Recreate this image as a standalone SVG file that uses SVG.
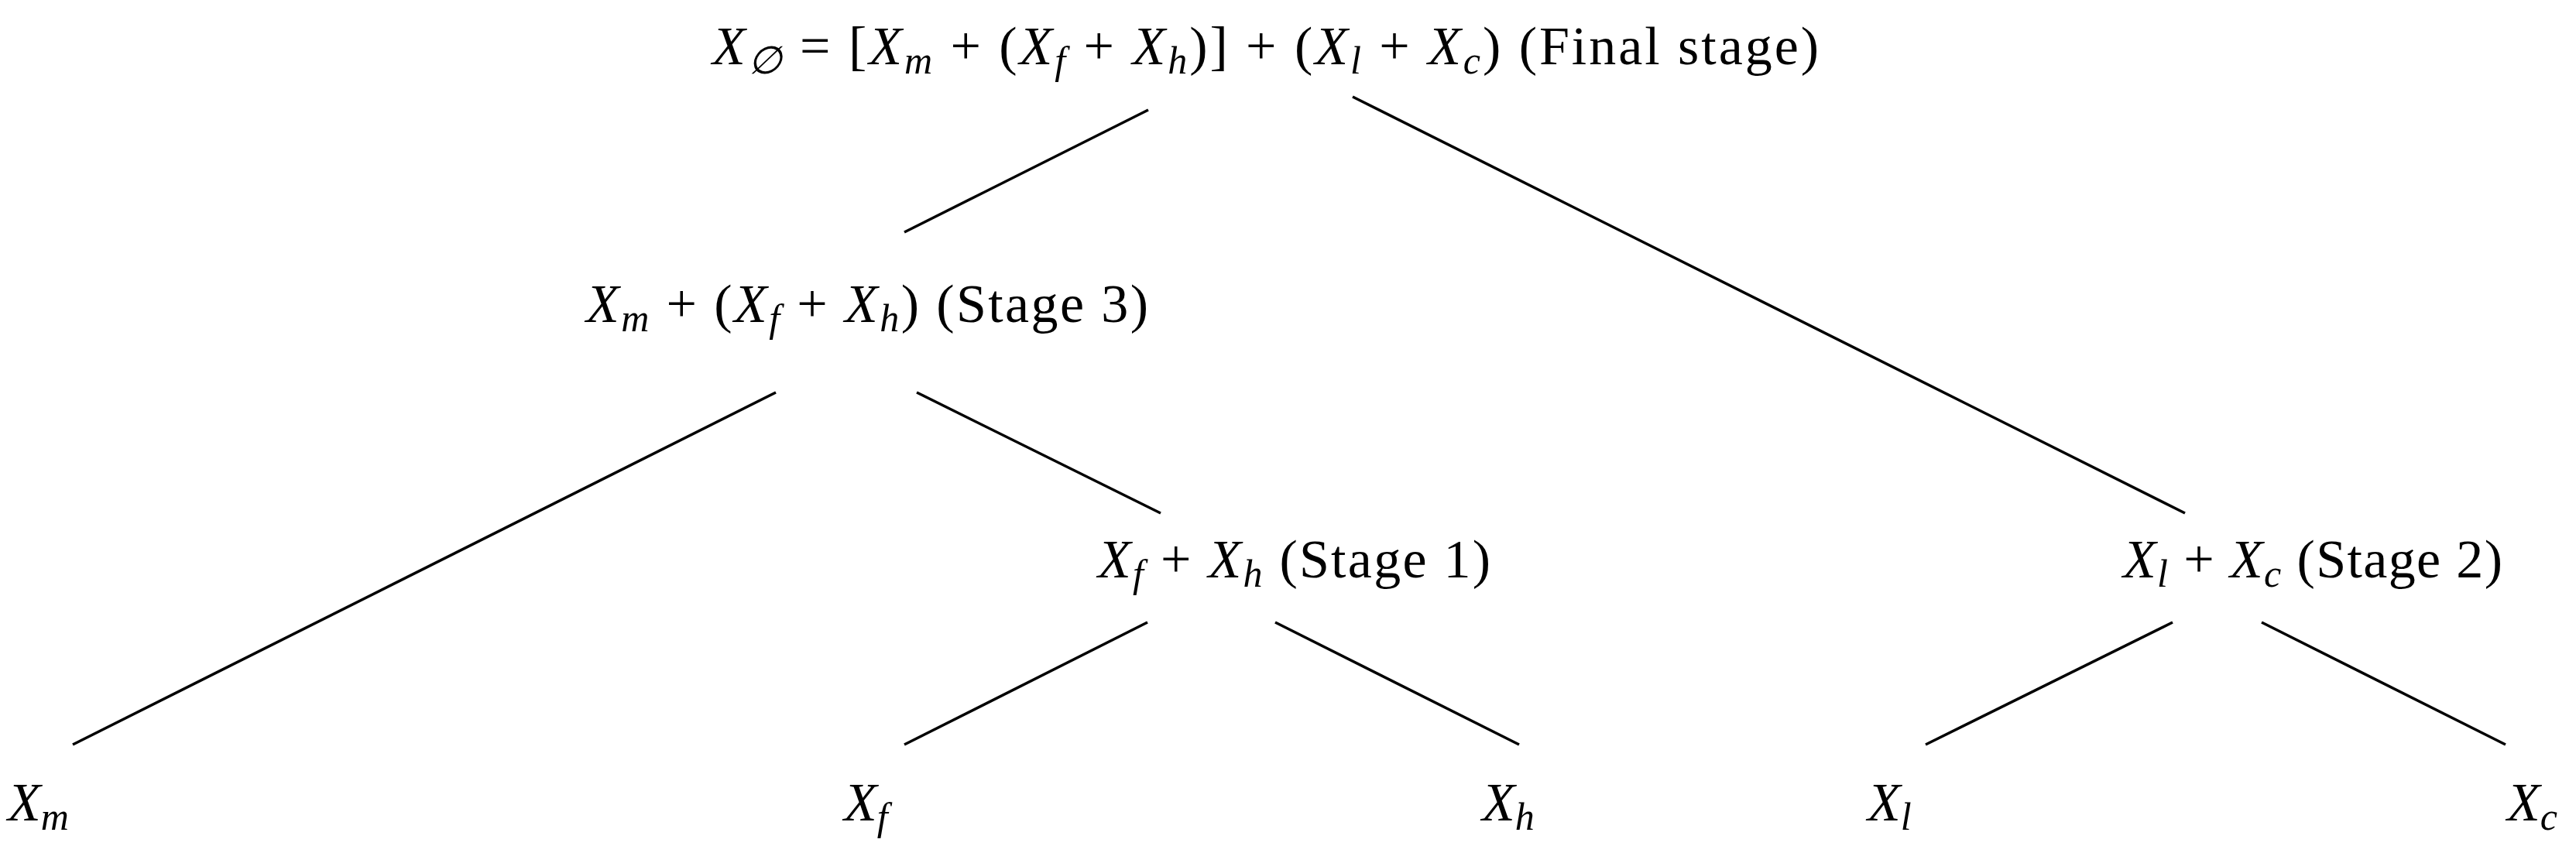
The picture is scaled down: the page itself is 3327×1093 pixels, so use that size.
<svg xmlns="http://www.w3.org/2000/svg" width="3327" height="1093" viewBox="0 0 3327 1093">
<style>
text{font-family:"Liberation Serif","Times New Roman",serif;font-size:70px;fill:#000}
.m{font-style:italic}
.s{font-style:italic;font-size:50px}
line{stroke:#000;stroke-width:3.5;stroke-linecap:butt}
</style>
<rect width="3327" height="1093" fill="#fff"/>
<g id="connectors">
<line x1="1483" y1="142" x2="1168" y2="300"/>
<line x1="1747" y1="125" x2="2822" y2="663"/>
<line x1="1002" y1="507" x2="94" y2="962"/>
<line x1="1184" y1="507" x2="1499" y2="663"/>
<line x1="1482" y1="804" x2="1168" y2="962"/>
<line x1="1647" y1="804" x2="1962" y2="962"/>
<line x1="2806" y1="804" x2="2487" y2="962"/>
<line x1="2921" y1="804" x2="3236" y2="962"/>
</g>
<g id="node-final">
<text x="920" y="83" textLength="1429" lengthAdjust="spacing"><tspan class="m">X</tspan><tspan class="s" dy="12">∅</tspan><tspan dy="-12"> = [</tspan><tspan class="m">X</tspan><tspan class="s" dy="12">m</tspan><tspan dy="-12"> + (</tspan><tspan class="m">X</tspan><tspan class="s" dy="12">f</tspan><tspan dy="-12"> + </tspan><tspan class="m">X</tspan><tspan class="s" dy="12">h</tspan><tspan dy="-12">)] + (</tspan><tspan class="m">X</tspan><tspan class="s" dy="12">l</tspan><tspan dy="-12"> + </tspan><tspan class="m">X</tspan><tspan class="s" dy="12">c</tspan><tspan dy="-12">) (Final stage)</tspan></text>
</g>
<g id="node-stage3">
<text x="757" y="416" textLength="726" lengthAdjust="spacing"><tspan class="m">X</tspan><tspan class="s" dy="12">m</tspan><tspan dy="-12"> + (</tspan><tspan class="m">X</tspan><tspan class="s" dy="12">f</tspan><tspan dy="-12"> + </tspan><tspan class="m">X</tspan><tspan class="s" dy="12">h</tspan><tspan dy="-12">) (Stage 3)</tspan></text>
</g>
<g id="node-stage1">
<text x="1418" y="746" textLength="507" lengthAdjust="spacing"><tspan class="m">X</tspan><tspan class="s" dy="12">f</tspan><tspan dy="-12"> + </tspan><tspan class="m">X</tspan><tspan class="s" dy="12">h</tspan><tspan dy="-12"> (Stage 1)</tspan></text>
</g>
<g id="node-stage2">
<text x="2742" y="746" textLength="490" lengthAdjust="spacing"><tspan class="m">X</tspan><tspan class="s" dy="12">l</tspan><tspan dy="-12"> + </tspan><tspan class="m">X</tspan><tspan class="s" dy="12">c</tspan><tspan dy="-12"> (Stage 2)</tspan></text>
</g>
<g id="node-xm"><text x="10" y="1060"><tspan class="m">X</tspan><tspan class="s" dy="12">m</tspan></text></g>
<g id="node-xf"><text x="1090" y="1060"><tspan class="m">X</tspan><tspan class="s" dy="12">f</tspan></text></g>
<g id="node-xh"><text x="1914" y="1060"><tspan class="m">X</tspan><tspan class="s" dy="12">h</tspan></text></g>
<g id="node-xl"><text x="2412" y="1060"><tspan class="m">X</tspan><tspan class="s" dy="12">l</tspan></text></g>
<g id="node-xc"><text x="3238" y="1060"><tspan class="m">X</tspan><tspan class="s" dy="12">c</tspan></text></g>
</svg>
